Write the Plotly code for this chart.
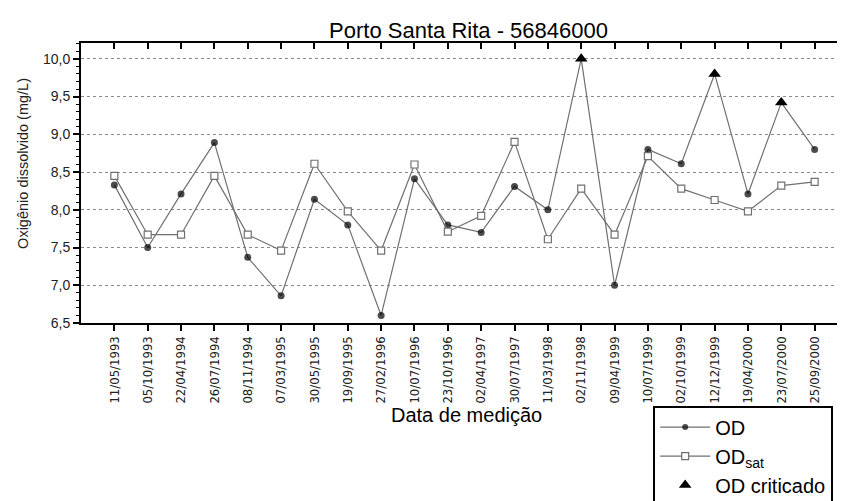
import plotly.graph_objects as go

dates = ["11/05/1993", "05/10/1993", "22/04/1994", "26/07/1994", "08/11/1994",
         "07/03/1995", "30/05/1995", "19/09/1995", "27/02/1996", "10/07/1996",
         "23/10/1996", "02/04/1997", "30/07/1997", "11/03/1998", "02/11/1998",
         "09/04/1999", "10/07/1999", "02/10/1999", "12/12/1999", "19/04/2000",
         "23/07/2000", "25/09/2000"]
od = [8.33, 7.50, 8.21, 8.89, 7.37, 6.86, 8.14, 7.80, 6.60, 8.41,
      7.80, 7.70, 8.31, 8.00, 10.00, 7.00, 8.80, 8.61, 9.80, 8.21,
      9.42, 8.80]
od_sat = [8.45, 7.67, 7.67, 8.45, 7.67, 7.46, 8.61, 7.98, 7.46, 8.60,
          7.71, 7.92, 8.90, 7.61, 8.28, 7.67, 8.71, 8.28, 8.13, 7.98,
          8.32, 8.37]
critico = [False] * 14 + [True] + [False] * 3 + [True] + [False] + [True] + [False]

idx = list(range(len(dates)))
LINE = "#707070"
FONT = "Liberation Sans, Arial, sans-serif"

fig = go.Figure()
fig.add_trace(go.Scatter(
    x=idx, y=od, mode="lines+markers", name="OD",
    line=dict(color=LINE, width=1.2),
    marker=dict(symbol="circle", color="black", size=[0 if c else 7 for c in critico],
                line=dict(width=0)),
))
fig.add_trace(go.Scatter(
    x=idx, y=od_sat, mode="lines+markers", name="OD<sub>sat</sub>",
    line=dict(color=LINE, width=1.2),
    marker=dict(symbol="square", color="white", size=7, line=dict(color=LINE, width=1.2)),
))
fig.add_trace(go.Scatter(
    x=[i for i, c in zip(idx, critico) if c],
    y=[v for v, c in zip(od, critico) if c],
    mode="markers", name="OD criticado",
    marker=dict(symbol="triangle-up", color="black", size=11, line=dict(width=0)),
))
# invisible helper trace for mirrored (inner) ticks on top/right
fig.add_trace(go.Scatter(x=idx, y=od, xaxis="x2", yaxis="y2", mode="markers",
                         marker=dict(opacity=0), showlegend=False, hoverinfo="skip"))

xr = [-1, 22]
yr = [6.5, 10.21]

fig.update_layout(
    width=845, height=501,
    margin=dict(l=73, r=3, t=35, b=164),
    paper_bgcolor="white", plot_bgcolor="white",
    separators=",.",
    font=dict(family=FONT, color="black"),
    title=dict(text="Porto Santa Rita - 56846000", x=0.545, xanchor="center",
               y=0.956, yanchor="middle", font=dict(size=22, color="black")),
    xaxis=dict(range=xr, tickmode="array", tickvals=idx, ticktext=dates,
               tickangle=-90, ticks="outside", ticklen=6, tickwidth=1.5, tickcolor="black",
               showline=True, linecolor="black", linewidth=2, mirror=True,
               showgrid=False, zeroline=False,
               tickfont=dict(size=13, family="Liberation Sans Narrow, DejaVu Sans Condensed, Arial Narrow, sans-serif", color="#222")),
    yaxis=dict(range=yr, tickmode="linear", tick0=6.5, dtick=0.5, tickformat=".1f",
               ticks="outside", ticklen=6, tickwidth=1.5, tickcolor="black",
               minor=dict(tick0=6.5, dtick=0.1, ticks="outside", ticklen=3, tickcolor="black", tickwidth=1, showgrid=False),
               showline=True, linecolor="black", linewidth=2, mirror=True,
               showgrid=True, gridcolor="#8a8a8a", griddash="dot", gridwidth=1,
               zeroline=False, tickfont=dict(size=14, color="#222")),
    xaxis2=dict(range=xr, overlaying="x", side="top", anchor="y2", tickmode="array", tickvals=idx,
                ticks="inside", ticklen=6, tickwidth=1.5, tickcolor="black",
                showticklabels=False, showgrid=False, showline=False, zeroline=False),
    yaxis2=dict(range=yr, overlaying="y", side="right", anchor="x2", tickmode="linear", tick0=6.5, dtick=0.5,
                ticks="inside", ticklen=6, tickwidth=1.5, tickcolor="black",
                minor=dict(tick0=6.5, dtick=0.1, ticks="inside", ticklen=3, tickcolor="black", tickwidth=1, showgrid=False),
                showticklabels=False, showgrid=False, showline=False, zeroline=False),
    legend=dict(x=0.746, y=-0.295, xanchor="left", yanchor="top",
                bgcolor="white", bordercolor="black", borderwidth=2,
                font=dict(size=20, color="black"), tracegroupgap=0, itemwidth=50),
    annotations=[
        dict(text="Oxigênio dissolvido (mg/L)", textangle=-90, xref="paper", yref="paper",
             x=-0.075, y=0.57, xanchor="center", yanchor="middle", showarrow=False,
             font=dict(size=14.5, color="#222")),
        dict(text="Data de medição", xref="paper", yref="paper",
             x=0.503, y=-0.33, xanchor="center", yanchor="middle", showarrow=False,
             font=dict(size=20, color="black")),
    ],
)

fig.write_html("out.html")
